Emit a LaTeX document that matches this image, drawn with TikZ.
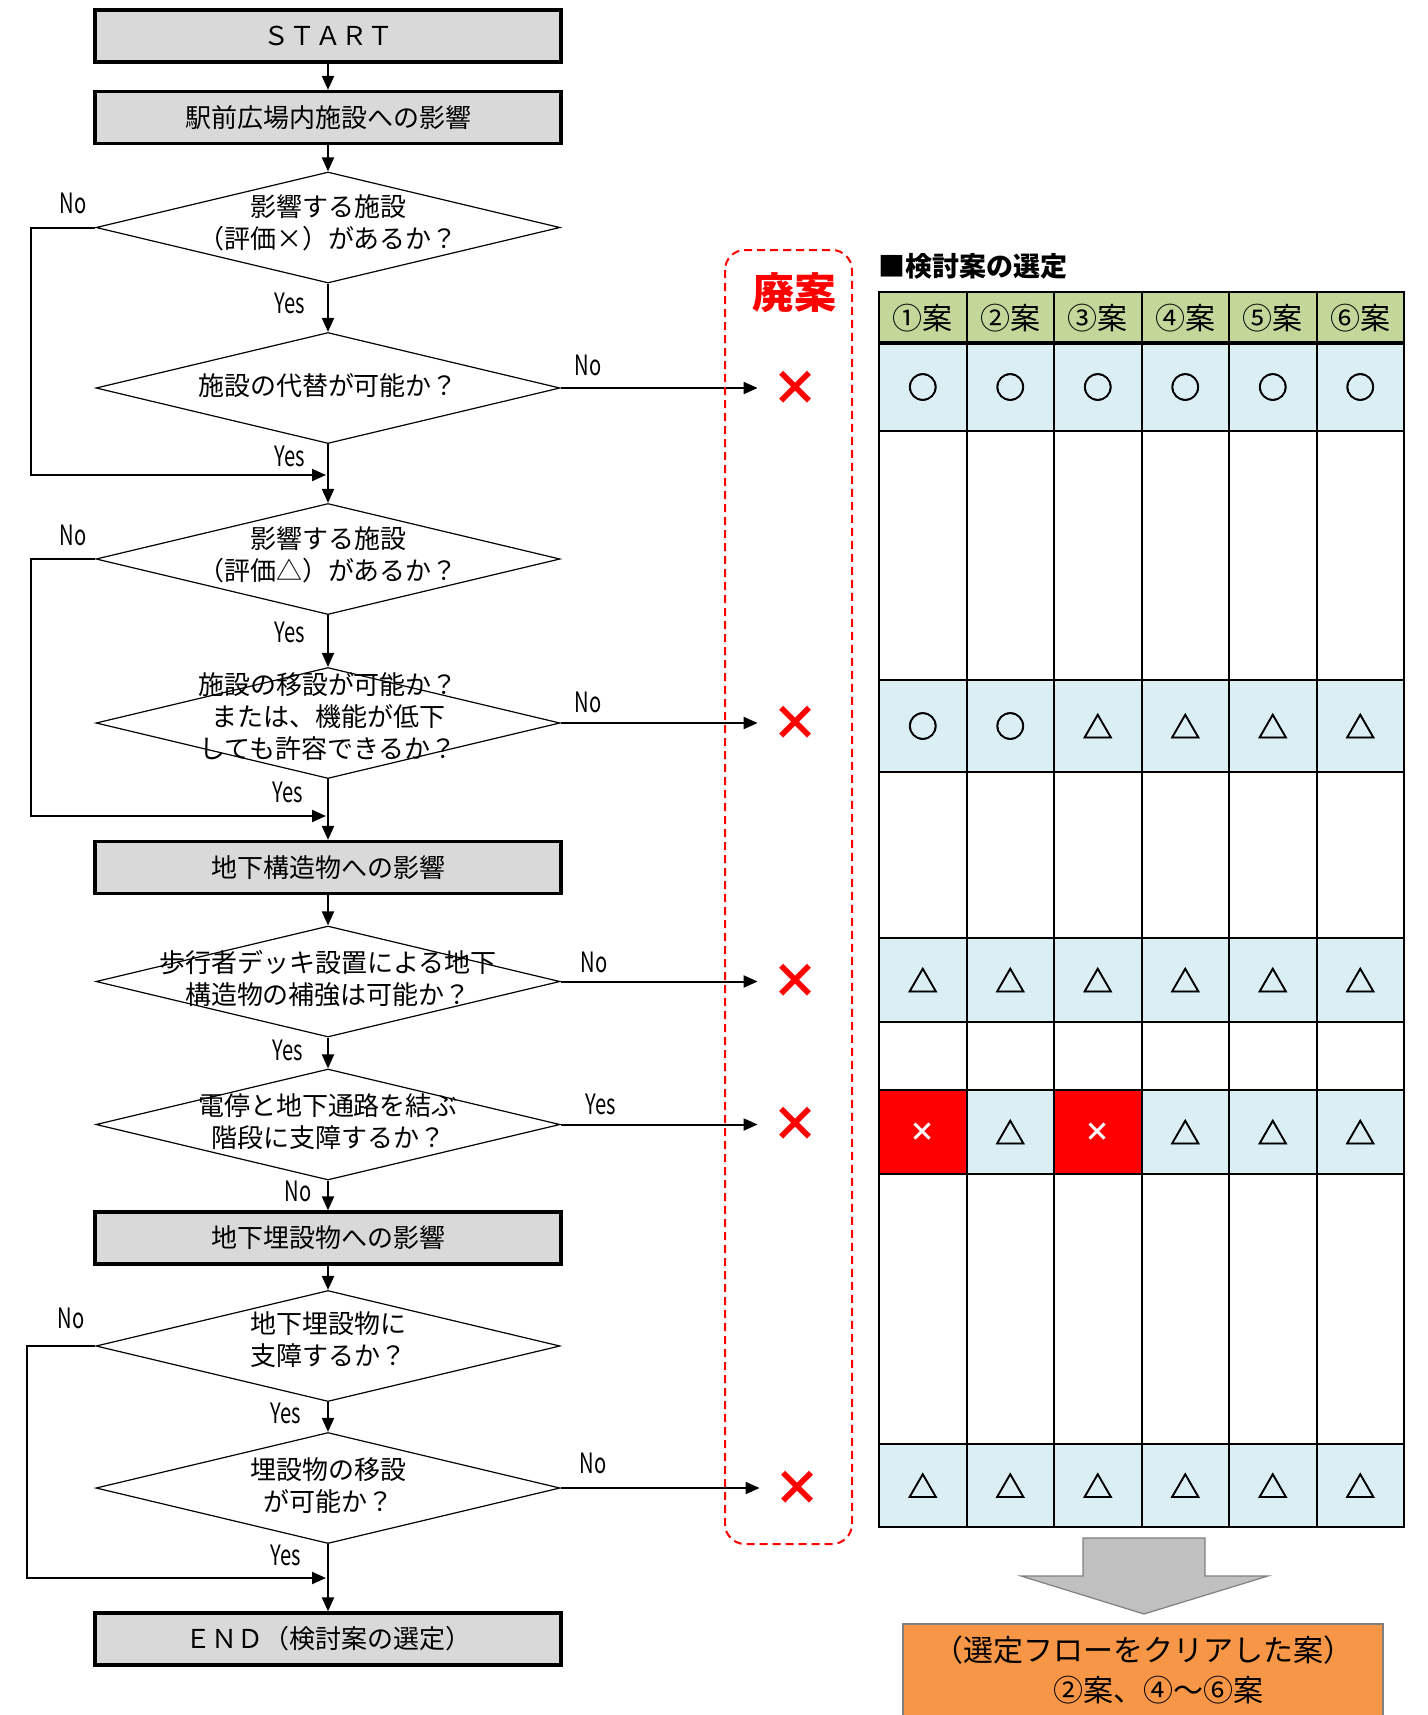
\documentclass[tikz,border=0pt]{standalone}
\usepackage{fontspec}
\setmainfont{Noto Sans CJK JP}
\newfontfamily\symfont{Noto Sans CJK JP}[FakeBold=2.5]
\usetikzlibrary{shapes.geometric,arrows.meta}
\definecolor{boxgray}{HTML}{D9D9D9}
\definecolor{hdrgreen}{HTML}{C4D79B}
\definecolor{cellblue}{HTML}{DAEEF3}
\definecolor{orng}{HTML}{F79646}
\definecolor{arrgray}{HTML}{C0C0C0}
\newcommand\nrw[1]{\scalebox{0.72}[1]{#1}}
\begin{document}
\begin{tikzpicture}[x=0.5pt,y=-0.5pt,
  procbox/.style={draw=black, line width=1.6pt, fill=boxgray, minimum width=233pt, minimum height=26pt, inner sep=0, font=\fontsize{13}{15}\selectfont},
  dec/.style={draw=black, diamond, line width=0.6pt, minimum width=232pt, minimum height=55.5pt, inner sep=0},
  dtext/.style={align=center, inner sep=0, font=\fontsize{13}{16}\selectfont},
  conn/.style={line width=1pt, -{Triangle[width=6pt,length=7pt]}},
  yn/.style={inner sep=0, font=\fontsize{14}{14}\selectfont},
  xmark/.style={text=red, inner sep=0, minimum width=37pt, font=\bfseries\fontsize{24}{24}\selectfont},
  sym/.style={inner sep=0, font=\symfont\fontsize{15}{15}\selectfont},
  wx/.style={inner sep=0, text=white, font=\bfseries\fontsize{13}{13}\selectfont},
  hdr/.style={inner sep=0, font=\fontsize{15}{15}\selectfont}
]
\useasboundingbox (0,0) rectangle (1428,1715);

% ---------- flowchart ----------
\node[procbox] (start) at (328,36) {ＳＴＡＲＴ};
\node[procbox] (b1) at (328,117.5) {駅前広場内施設への影響};
\node[dec] (d1) at (328,227.5) {};
\node[dtext] (t1) at (328,223) {影響する施設\\（評価×）があるか？};
\node[dec] (d2) at (328,388) {};
\node[dtext] (t2) at (328,386) {施設の代替が可能か？};
\coordinate (m1) at (326,475);
\node[dec] (d3) at (328,559) {};
\node[dtext] (t3) at (328,555) {影響する施設\\（評価△）があるか？};
\node[dec] (d4) at (328,723) {};
\node[dtext] (t4) at (328,717) {施設の移設が可能か？\\または、機能が低下\\しても許容できるか？};
\coordinate (m2) at (326,816);
\node[procbox] (b2) at (328,867.5) {地下構造物への影響};
\node[dec] (d5) at (328,981.5) {};
\node[dtext] (t5) at (328,979) {歩行者デッキ設置による地下\\構造物の補強は可能か？};
\node[dec] (d6) at (328,1124.5) {};
\node[dtext] (t6) at (328,1122) {電停と地下通路を結ぶ\\階段に支障するか？};
\node[procbox] (b3) at (328,1238) {地下埋設物への影響};
\node[dec] (d7) at (328,1346) {};
\node[dtext] (t7) at (328,1340) {地下埋設物に\\支障するか？};
\node[dec] (d8) at (328,1488) {};
\node[dtext] (t8) at (328,1486) {埋設物の移設\\が可能か？};
\coordinate (m3) at (326,1578);
\node[procbox] (end) at (328,1639) {ＥＮＤ（検討案の選定）};

% rejection marks
\node[xmark] (x1) at (795,388) {×};
\node[xmark] (x2) at (795,723) {×};
\node[xmark] (x3) at (795,981.5) {×};
\node[xmark] (x4) at (795,1124.5) {×};
\node[xmark] (x5) at (797,1488) {×};

% connectors
\draw[conn] (start) -- (b1);
\draw[conn] (b1) -- (d1);
\draw[conn] (d1) -- (d2);
\draw[conn] (d2) -- (d3);
\draw[conn] (d1.west) -- ++(-64,0) |- (m1);
\draw[conn] (d2.east) -- (x1);
\draw[conn] (d3) -- (d4);
\draw[conn] (d4) -- (b2);
\draw[conn] (d3.west) -- ++(-64,0) |- (m2);
\draw[conn] (d4.east) -- (x2);
\draw[conn] (b2) -- (d5);
\draw[conn] (d5.east) -- (x3);
\draw[conn] (d5) -- (d6);
\draw[conn] (d6.east) -- (x4);
\draw[conn] (d6) -- (b3);
\draw[conn] (b3) -- (d7);
\draw[conn] (d7) -- (d8);
\draw[conn] (d7.west) -- ++(-68,0) |- (m3);
\draw[conn] (d8.east) -- (x5);
\draw[conn] (d8) -- (end);

% Yes / No labels
\node[yn] (l1) at (73,203) {\nrw{No}};
\node[yn] (l2) at (290,303) {\nrw{Yes}};
\node[yn] (l3) at (588,365) {\nrw{No}};
\node[yn] (l4) at (290,456) {\nrw{Yes}};
\node[yn] (l5) at (73,535) {\nrw{No}};
\node[yn] (l6) at (290,632) {\nrw{Yes}};
\node[yn] (l7) at (588,702) {\nrw{No}};
\node[yn] (l8) at (288,792) {\nrw{Yes}};
\node[yn] (l9) at (594,962) {\nrw{No}};
\node[yn] (l10) at (288,1050) {\nrw{Yes}};
\node[yn] (l11) at (601,1104) {\nrw{Yes}};
\node[yn] (l12) at (298,1191) {\nrw{No}};
\node[yn] (l13) at (71,1318) {\nrw{No}};
\node[yn] (l14) at (286,1413) {\nrw{Yes}};
\node[yn] (l15) at (593,1463) {\nrw{No}};
\node[yn] (l16) at (286,1555) {\nrw{Yes}};

% rejected column
\draw[red, line width=1pt, dash pattern=on 4pt off 2.5pt, rounded corners=10pt] (725,250) rectangle (852,1544);
\node[text=red, inner sep=0, font=\bfseries\fontsize{21}{21}\selectfont] (haian) at (794,293) {廃案};

% ---------- table ----------
\node[anchor=west, inner sep=0, font=\bfseries\fontsize{13.5}{14}\selectfont] (ttl) at (878,266) {■検討案の選定};
\fill[hdrgreen] (879,292) rectangle (1404,343);
\fill[cellblue] (879,343) rectangle (1404,431);
\fill[cellblue] (879,680) rectangle (1404,772);
\fill[cellblue] (879,938) rectangle (1404,1022);
\fill[cellblue] (879,1090) rectangle (1404,1174);
\fill[red] (879,1090) rectangle (966.5,1174);
\fill[red] (1054,1090) rectangle (1141.5,1174);
\fill[cellblue] (879,1444) rectangle (1404,1527);
\foreach \x in {966.5,1054,1141.5,1229,1316.5} \draw[line width=1pt] (\x,292) -- (\x,1527);
\foreach \y in {431,680,772,938,1022,1090,1174,1444} \draw[line width=1pt] (879,\y) -- (1404,\y);
\draw[line width=2.2pt] (879,343) -- (1404,343);
\draw[line width=1.4pt] (879,292) rectangle (1404,1527);

\foreach \s [count=\i from 0] in {①,②,③,④,⑤,⑥}
  \node[hdr] (h\i) at ({922.75+87.5*\i},318) {\s 案};
\foreach \s [count=\i from 0] in {○,○,○,○,○,○}
  \node[sym] (ra\i) at ({922.75+87.5*\i},387) {\s};
\foreach \s [count=\i from 0] in {○,○,△,△,△,△}
  \node[sym] (rb\i) at ({922.75+87.5*\i},726) {\s};
\foreach \s [count=\i from 0] in {△,△,△,△,△,△}
  \node[sym] (rc\i) at ({922.75+87.5*\i},980) {\s};
\node[wx] (rd0) at (922.75,1132) {×};
\node[sym] (rd1) at (1010.25,1132) {△};
\node[wx] (rd2) at (1097.75,1132) {×};
\node[sym] (rd3) at (1185.25,1132) {△};
\node[sym] (rd4) at (1272.75,1132) {△};
\node[sym] (rd5) at (1360.25,1132) {△};
\foreach \s [count=\i from 0] in {△,△,△,△,△,△}
  \node[sym] (re\i) at ({922.75+87.5*\i},1485.5) {\s};

% ---------- result ----------
\draw[draw=gray, fill=arrgray, line width=0.6pt] (1083,1538) -- (1205,1538) -- (1205,1576) -- (1268,1576) -- (1144,1614) -- (1021,1576) -- (1083,1576) -- cycle;
\draw[draw=gray, fill=orng, line width=0.6pt] (903,1624) rectangle (1383,1716);
\node[align=center, inner sep=0, font=\fontsize{15}{20}\selectfont] (res) at (1143,1670) {（選定フローをクリアした案）\\　②案、④～⑥案};
\end{tikzpicture}
\end{document}
